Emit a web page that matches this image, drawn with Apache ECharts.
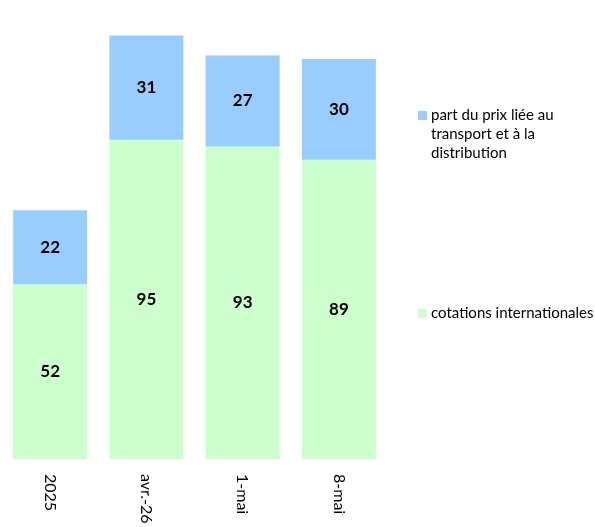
<!DOCTYPE html>
<html>
<head>
<meta charset="utf-8">
<script src="https://cdn.jsdelivr.net/npm/echarts@6/dist/echarts.min.js"></script>
<style>
  html, body { margin: 0; padding: 0; background: #fff; }
  #chart { width: 595px; height: 527px; }
</style>
</head>
<body>
<div id="chart"></div>
<script>
const categories = ['2025', 'avr.-26', '1-mai', '8-mai']
const cotations = [52, 95, 93, 89]
const transport = [22, 31, 27, 30]
const seriesNames = ['cotations internationales', 'part du prix liée au transport et à la distribution']

const chart = echarts.init(document.getElementById('chart'))
const font = 'Lato, "Open Sans", sans-serif'

const labelStyle = {
  show: true,
  position: 'inside',
  color: '#000',
  fontWeight: 'bold',
  fontSize: 17,
  fontFamily: font,
}

chart.setOption({
  animation: false,
  grid: { left: 2, right: 208, top: 22, bottom: 68 },
  legend: [
    {
      // two blank lines on top so the icon lines up with the first text line
      data: [seriesNames[1]],
      left: 418,
      top: 68,
      padding: 0,
      icon: 'rect',
      itemWidth: 9,
      itemHeight: 9,
      formatter: () => '\n\npart du prix liée au\ntransport et à la\ndistribution',
      textStyle: {
        color: '#000',
        fontSize: 15,
        fontFamily: font,
        lineHeight: 19,
        padding: [0, 0, 0, -1],
      },
    },
    {
      data: [seriesNames[0]],
      left: 418,
      top: 306,
      padding: 0,
      icon: 'rect',
      itemWidth: 9,
      itemHeight: 9,
      textStyle: { color: '#000', fontSize: 15, fontFamily: font, padding: [0, 0, 0, -1] },
    },
  ],
  xAxis: {
    type: 'category',
    data: categories,
    axisLine: { show: false },
    axisTick: { show: false },
    axisLabel: {
      rotate: -90,
      margin: 15,
      color: '#000',
      fontSize: 16,
      fontFamily: font,
    },
  },
  yAxis: {
    type: 'value',
    min: 0,
    max: 130,
    show: false,
    splitLine: { show: false },
  },
  series: [
    {
      name: seriesNames[0],
      type: 'bar',
      stack: 'total',
      data: cotations,
      barWidth: 74,
      itemStyle: { color: '#ccffcc' },
      label: labelStyle,
    },
    {
      name: seriesNames[1],
      type: 'bar',
      stack: 'total',
      data: transport,
      barWidth: 74,
      itemStyle: { color: '#99ccff' },
      label: labelStyle,
    },
  ],
})
</script>
</body>
</html>
